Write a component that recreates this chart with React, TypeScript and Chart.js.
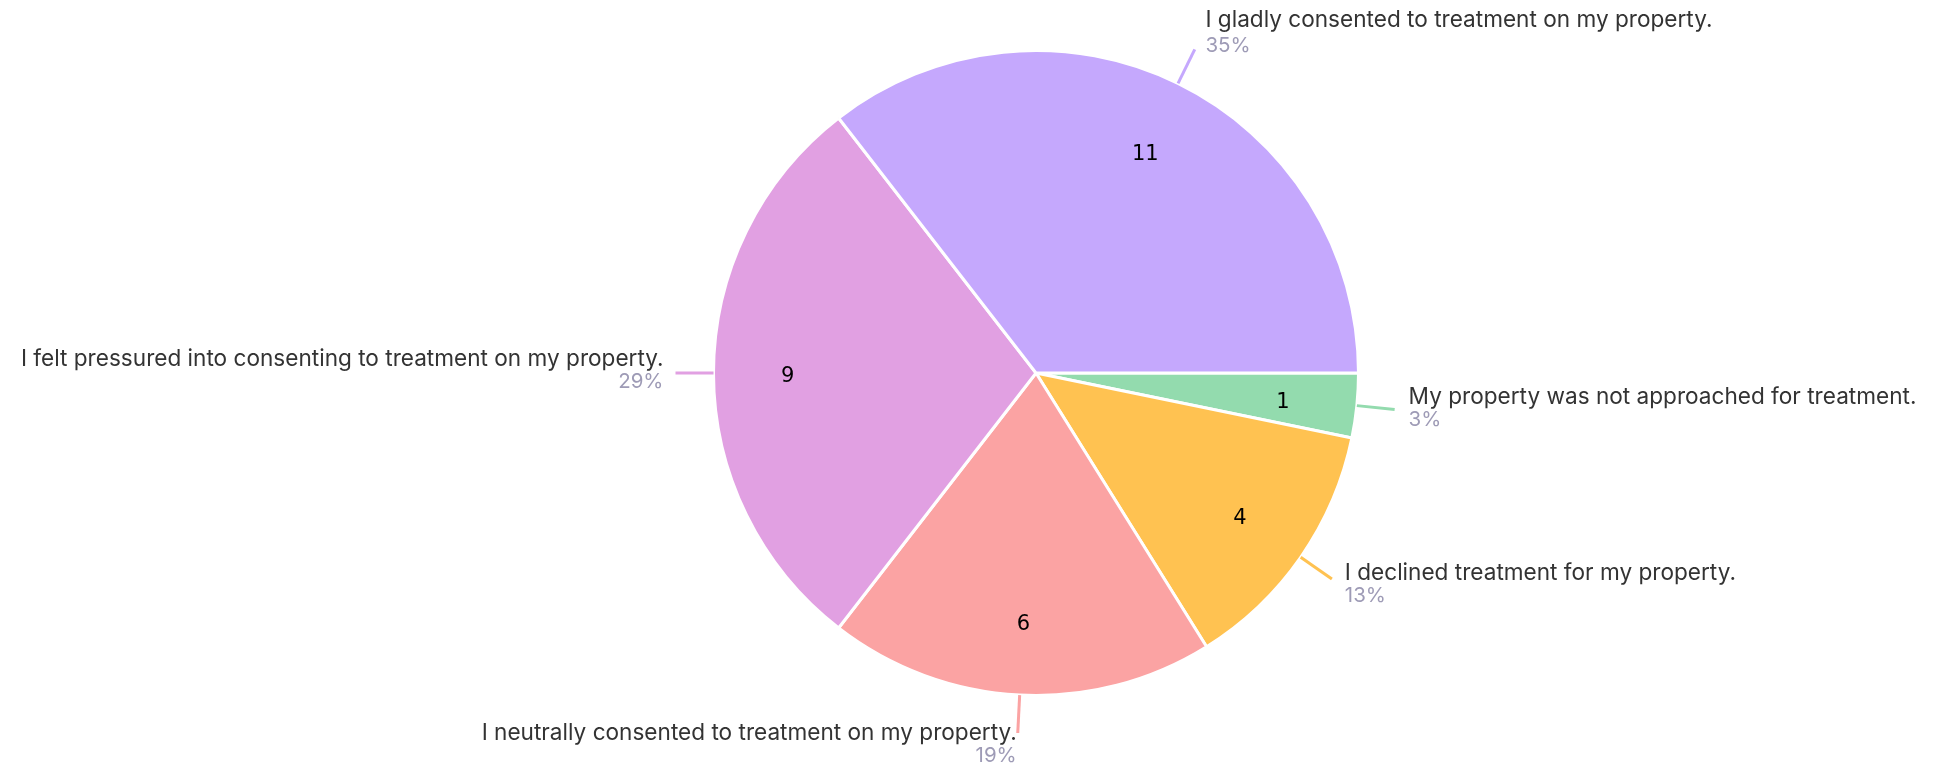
import React, { useEffect, useRef } from "react";
import { Chart, registerables } from "chart.js";

Chart.register(...registerables);

const labels = [
  "My property was not approached for treatment.",
  "I declined treatment for my property.",
  "I neutrally consented to treatment on my property.",
  "I felt pressured into consenting to treatment on my property.",
  "I gladly consented to treatment on my property.",
];
const counts = [1, 4, 6, 9, 11];
const colors = ["#93dbae", "#ffc251", "#fba3a3", "#e1a0e2", "#c5a8fd"];

const LABEL_FONT = '22.6px "Inter", "Noto Sans", sans-serif';
const PCT_FONT = '20.5px "Inter", "Noto Sans", sans-serif';
const VALUE_FONT = '21px "DejaVu Sans", sans-serif';

const leaderPlugin = {
  id: "leaderLabels",
  afterDatasetsDraw(chart: any) {
    const ctx = chart.ctx as CanvasRenderingContext2D;
    const meta = chart.getDatasetMeta(0);
    const data = chart.data.datasets[0].data as number[];
    const total = data.reduce((a, b) => a + b, 0);
    ctx.save();
    meta.data.forEach((arc: any, i: number) => {
      const { x, y, startAngle, endAngle, outerRadius } = arc.getProps(
        ["x", "y", "startAngle", "endAngle", "outerRadius"],
        true
      );
      const mid = (startAngle + endAngle) / 2;
      const c = Math.cos(mid);
      const s = Math.sin(mid);
      // value inside slice
      ctx.fillStyle = "#000";
      ctx.font = VALUE_FONT;
      ctx.textAlign = "center";
      ctx.textBaseline = "middle";
      const vr = outerRadius * 0.77;
      ctx.fillText(String(data[i]), x + c * vr, y + s * vr + 4);

      // leader line
      const r0 = outerRadius;
      const r1 = outerRadius + 38;
      const sx = x + c * r0;
      const sy = y + s * r0;
      const ex = x + c * r1;
      const ey = y + s * r1;
      ctx.strokeStyle = colors[i];
      ctx.lineWidth = 3;
      ctx.beginPath();
      ctx.moveTo(sx, sy);
      ctx.lineTo(ex, ey);
      ctx.stroke();

      // text
      let tx: number;
      let align: CanvasTextAlign;
      if (c > 0.2) {
        align = "left";
        tx = ex + 8 + 6 * Math.abs(c);
      } else {
        align = "right";
        tx = ex - (Math.abs(c) > 0.5 ? 12 : 1);
      }
      const ldy = -14 + 14 * s - (s < -0.5 ? 3 : 0);
      const pdy = ldy + (s < -0.5 ? 26 : 23);
      ctx.textAlign = align;
      ctx.textBaseline = "middle";
      ctx.font = LABEL_FONT;
      ctx.fillStyle = "#333333";
      ctx.fillText(labels[i], tx, ey + ldy);
      ctx.font = PCT_FONT;
      ctx.fillStyle = "#9e9bb6";
      const pct = Math.round((data[i] / total) * 100) + "%";
      ctx.fillText(pct, tx, ey + pdy);
    });
    ctx.restore();
  },
};

export default function App() {
  const ref = useRef<HTMLCanvasElement>(null);
  useEffect(() => {
    if (!ref.current) return;
    const chart = new Chart(ref.current, {
      type: "pie",
      data: {
        labels,
        datasets: [
          {
            data: counts,
            backgroundColor: colors,
            borderColor: "#ffffff",
            borderWidth: 3,
          },
        ],
      },
      options: {
        animation: false,
        responsive: true,
        maintainAspectRatio: false,
        rotation: 90,
        layout: { padding: { top: 49, bottom: 68, left: 712, right: 581 } },
        plugins: {
          legend: { display: false },
          tooltip: { enabled: false },
        },
      },
      plugins: [leaderPlugin],
    });
    return () => chart.destroy();
  }, []);
  return (
    <div style={{ position: "fixed", left: 0, top: 0, width: "1941px", height: "765px", background: "#fff" }}>
      <canvas ref={ref} />
    </div>
  );
}
